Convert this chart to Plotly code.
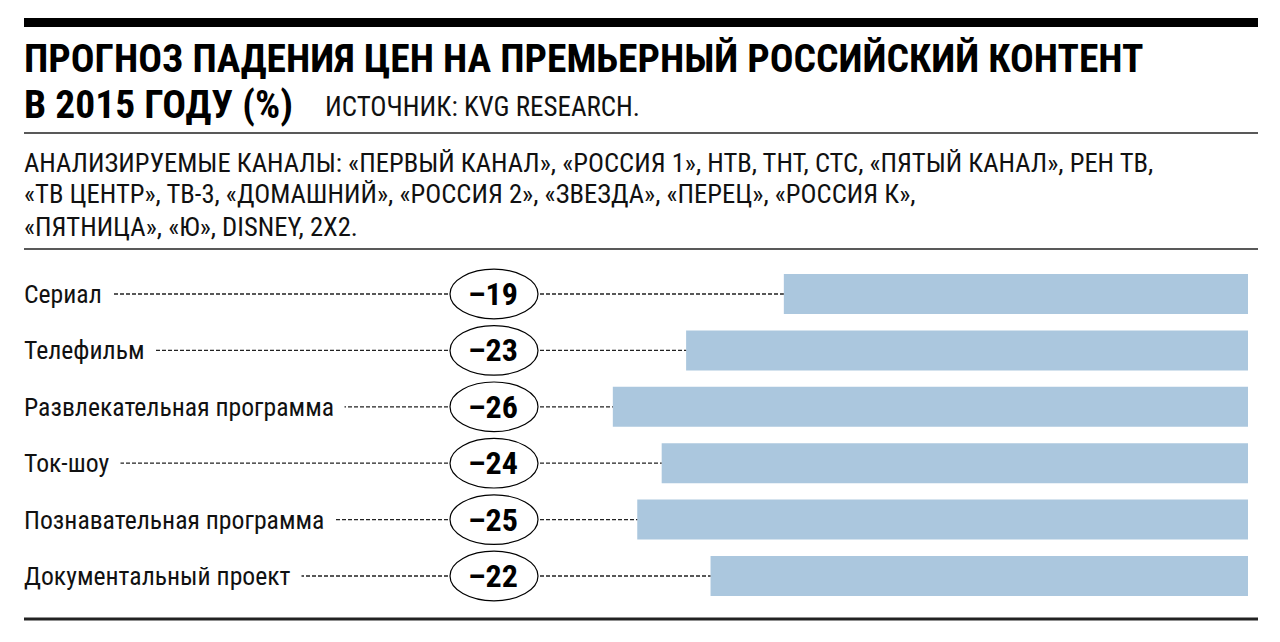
import plotly.graph_objects as go

# ---- data ----
categories = ["Сериал", "Телефильм", "Развлекательная программа",
              "Ток-шоу", "Познавательная программа", "Документальный проект"]
values = [-19, -23, -26, -24, -25, -22]
value_labels = ["–19", "–23", "–26", "–24", "–25", "–22"]

title_line1 = "ПРОГНОЗ ПАДЕНИЯ ЦЕН НА ПРЕМЬЕРНЫЙ РОССИЙСКИЙ КОНТЕНТ"
title_line2 = "В 2015 ГОДУ (%)"
source_text = "ИСТОЧНИК: KVG RESEARCH."
channels_lines = [
    "АНАЛИЗИРУЕМЫЕ КАНАЛЫ: «ПЕРВЫЙ КАНАЛ», «РОССИЯ 1», НТВ, ТНТ, СТС, «ПЯТЫЙ КАНАЛ», РЕН ТВ,",
    "«ТВ ЦЕНТР», ТВ-3, «ДОМАШНИЙ», «РОССИЯ 2», «ЗВЕЗДА», «ПЕРЕЦ», «РОССИЯ К»,",
    "«ПЯТНИЦА», «Ю», DISNEY, 2Х2.",
]

# page body has an 8px margin: the figure is sized and positioned to compensate
OFF = 8
W, H = 1280 - OFF, 642 - OFF
FONT = "Roboto Condensed, Liberation Sans, sans-serif"
BAR_COLOR = "#abc7de"

def px(x):
    return (x - OFF) / W

def py(y):
    return 1 - (y - OFF) / H

# axis geometry: zero at screen x=1248, 24.43 px per unit; rows from screen y=294, 56.4 px apart
unit = 24.43
zero_px = 1248 - OFF
x_range = [-zero_px / unit, (W - zero_px) / unit]
row0, row_step = 294 - OFF, 56.4
y_range = [(H - row0) / row_step, (0 - row0) / row_step]

def xdata(p):
    return x_range[0] + (p - OFF) / W * (x_range[1] - x_range[0])

fig = go.Figure()
fig.add_trace(go.Bar(
    x=values, y=categories, orientation="h",
    width=0.71, marker=dict(color=BAR_COLOR, line=dict(width=0)),
    hoverinfo="skip", showlegend=False,
))

shapes = []
annotations = []

# horizontal rules
shapes.append(dict(type="rect", xref="paper", yref="paper",
                   x0=px(24), x1=px(1258), y0=py(27), y1=py(18),
                   fillcolor="black", line=dict(width=0), layer="above"))
for yy, w in [(133, 1.5), (249, 1.5), (619, 3)]:
    shapes.append(dict(type="line", xref="paper", yref="paper",
                       x0=px(24), x1=px(1258), y0=py(yy), y1=py(yy),
                       line=dict(color="#222", width=w), layer="above"))

# dashed leader lines
for i, v in enumerate(values):
    shapes.append(dict(type="line", xref="x", yref="y",
                       x0=xdata(30), x1=v, y0=i, y1=i,
                       line=dict(color="#222", width=1.3, dash="4px,2px"), layer="above"))

# ellipses
for i, v in enumerate(values):
    shapes.append(dict(type="circle", xref="paper", yref="y",
                       x0=px(450), x1=px(538), y0=i - 0.44, y1=i + 0.44,
                       fillcolor="white", line=dict(color="black", width=1.2), layer="above"))

# titles
annotations.append(dict(xref="paper", yref="paper", x=px(22), y=py(59),
                        xanchor="left", yanchor="middle", showarrow=False,
                        text="<b>" + title_line1 + "</b>",
                        font=dict(family=FONT, size=39.5, color="black")))
annotations.append(dict(xref="paper", yref="paper", x=px(22), y=py(105),
                        xanchor="left", yanchor="middle", showarrow=False,
                        text="<b>" + title_line2 + "</b>",
                        font=dict(family=FONT, size=39.5, color="black")))
annotations.append(dict(xref="paper", yref="paper", x=px(323), y=py(107),
                        xanchor="left", yanchor="middle", showarrow=False,
                        text=source_text,
                        font=dict(family=FONT, size=27, color="#111")))
for k, line in enumerate(channels_lines):
    annotations.append(dict(xref="paper", yref="paper", x=px(22), y=py(162 + 32 * k),
                            xanchor="left", yanchor="middle", showarrow=False,
                            text=line,
                            font=dict(family=FONT, size=26.6, color="#111")))

# row labels (white background hides the leader line under the text)
for i, c in enumerate(categories):
    annotations.append(dict(xref="paper", yref="y", x=px(13), y=i,
                            xanchor="left", yanchor="middle", showarrow=False,
                            text=c, bgcolor="white", borderpad=10,
                            font=dict(family=FONT, size=25.7, color="#111")))

# value labels in ellipses
for i, t in enumerate(value_labels):
    annotations.append(dict(xref="paper", yref="y", x=px(493), y=i,
                            xanchor="center", yanchor="middle", showarrow=False,
                            text="<b>" + t + "</b>",
                            font=dict(family=FONT, size=32, color="black")))

fig.update_layout(
    width=W, height=H,
    margin=dict(l=0, r=0, t=0, b=0),
    paper_bgcolor="white", plot_bgcolor="white",
    xaxis=dict(range=x_range, domain=[0, 1], visible=False, fixedrange=True),
    yaxis=dict(range=y_range, domain=[0, 1], visible=False, fixedrange=True,
               categoryorder="array", categoryarray=categories),
    shapes=shapes, annotations=annotations,
    showlegend=False,
)

fig.write_html("out.html")
